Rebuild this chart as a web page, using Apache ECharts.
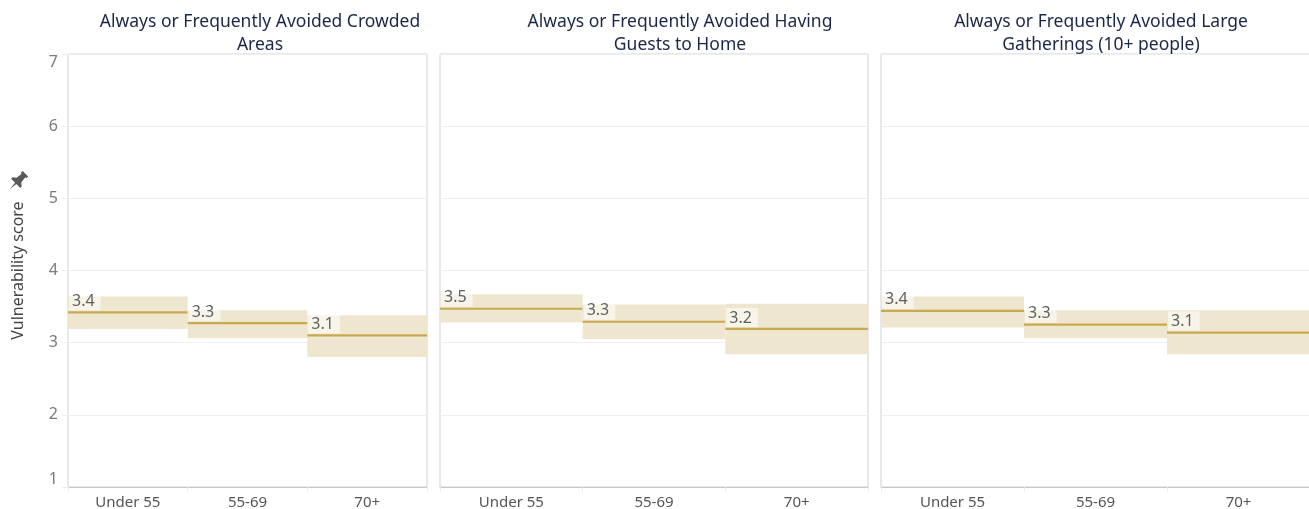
<!DOCTYPE html>
<html>
<head>
<meta charset="utf-8">
<script src="https://cdn.jsdelivr.net/npm/echarts@6/dist/echarts.min.js"></script>
<style>html,body{margin:0;padding:0;background:#fff}#c{width:1309px;height:509px}</style>
</head>
<body>
<div id="c"></div>
<script>
const categories = ['Under 55', '55-69', '70+'];
const panelTitles = [
  'Always or Frequently Avoided Crowded\nAreas',
  'Always or Frequently Avoided Having\nGuests to Home',
  'Always or Frequently Avoided Large\nGatherings (10+ people)'
];
const yTicks = [1, 2, 3, 4, 5, 6, 7];

const crowdedMean = [3.42, 3.27, 3.10];
const crowdedLow  = [3.19, 3.06, 2.80];
const crowdedHigh = [3.64, 3.45, 3.38];
const crowdedLabel = ['3.4', '3.3', '3.1'];

const guestsMean = [3.47, 3.29, 3.19];
const guestsLow  = [3.28, 3.05, 2.84];
const guestsHigh = [3.67, 3.53, 3.54];
const guestsLabel = ['3.5', '3.3', '3.2'];

const largeMean = [3.44, 3.25, 3.14];
const largeLow  = [3.21, 3.06, 2.84];
const largeHigh = [3.64, 3.45, 3.45];
const largeLabel = ['3.4', '3.3', '3.1'];

const panels = [
  {mean: crowdedMean, low: crowdedLow, high: crowdedHigh, label: crowdedLabel},
  {mean: guestsMean, low: guestsLow, high: guestsHigh, label: guestsLabel},
  {mean: largeMean, low: largeLow, high: largeHigh, label: largeLabel}
];

const gridPos = [
  {left: 68, width: 359},
  {left: 440, width: 428},
  {left: 881, width: 429}
];
const titleX = [260, 680, 1101];

const FONT = '"Noto Sans", "Open Sans", sans-serif';

const chart = echarts.init(document.getElementById('c'));

const grids = [], xAxes = [], yAxes = [], series = [];
panels.forEach((p, i) => {
  grids.push({left: gridPos[i].left, width: gridPos[i].width, top: 54, height: 433,
    containLabel: false, outerBoundsMode: 'none',
    show: true, borderColor: '#d2d2d2', borderWidth: 1, backgroundColor: 'transparent'});
  xAxes.push({type: 'category', gridIndex: i, data: categories, boundaryGap: true,
    axisLine: {lineStyle: {color: '#c8c8c8'}},
    axisTick: {show: true, length: 5, lineStyle: {color: '#ececec'}},
    axisLabel: {color: '#555', fontSize: 15, fontFamily: FONT, margin: 8},
    splitLine: {show: false}});
  yAxes.push({type: 'value', gridIndex: i, min: yTicks[0], max: yTicks[yTicks.length - 1], interval: 1,
    axisLine: {show: false},
    axisTick: {show: i === 0, length: 6, lineStyle: {color: '#ececec'}},
    axisLabel: {show: i === 0, color: '#7a7a7a', fontSize: 16, fontFamily: FONT, margin: 10,
      verticalAlignMaxLabel: 'top', verticalAlignMinLabel: 'bottom'},
    splitLine: {show: true, lineStyle: {color: '#efefef', width: 1}},
    name: i === 0 ? 'Vulnerability score' : '',
    nameLocation: 'middle', nameGap: 42, nameRotate: 90,
    nameTextStyle: {color: '#444', fontSize: 16, fontFamily: FONT}
  });
  const data = categories.map((c, k) => [k, p.mean[k], p.low[k], p.high[k], p.label[k]]);
  series.push({
    type: 'custom', xAxisIndex: i, yAxisIndex: i, data: data,
    encode: {x: 0, y: 1},
    renderItem: function (params, api) {
      const idx = api.value(0);
      const pt = api.coord([idx, api.value(1)]);
      const bw = api.size([1, 0])[0];
      const left = pt[0] - bw / 2;
      const yHigh = api.coord([idx, api.value(3)])[1];
      const yLow = api.coord([idx, api.value(2)])[1];
      const lbl = data[params.dataIndex][4];
      return {
        type: 'group',
        children: [
          {type: 'rect', shape: {x: left, y: yHigh, width: bw, height: yLow - yHigh},
            style: {fill: '#eee6cf'}},
          {type: 'line', shape: {x1: left, y1: pt[1], x2: left + bw, y2: pt[1]},
            style: {stroke: '#c8a850', lineWidth: 2.2}},
          {type: 'text', x: left + 1, y: pt[1] - 2,
            style: {text: lbl, fill: '#5f5f5f', font: '16px ' + FONT, align: 'left', verticalAlign: 'bottom',
              backgroundColor: 'rgba(255,255,255,0.55)', padding: [2, 6, 1, 3]}}
        ]
      };
    }
  });
});

const graphics = panelTitles.map((t, i) => ({
  type: 'text', x: titleX[i], y: 11,
  style: {text: t, fill: '#1b2749', font: '17.5px ' + FONT, align: 'center', verticalAlign: 'top', lineHeight: 23}
}));
graphics.push({
  type: 'polygon', x: 18, y: 181, rotation: -Math.PI / 4, scaleX: 1.3, scaleY: 1.3,
  shape: {points: [[-3,-8],[3,-8],[3,-6],[2,-6],[2.5,-1],[5,1],[5,2.5],[0.7,2.5],[0,9],[-0.7,2.5],[-5,2.5],[-5,1],[-2.5,-1],[-2,-6],[-3,-6]]},
  style: {fill: '#595959'}
});

chart.setOption({
  animation: false,
  grid: grids, xAxis: xAxes, yAxis: yAxes, series: series, graphic: graphics
});
</script>
</body>
</html>
